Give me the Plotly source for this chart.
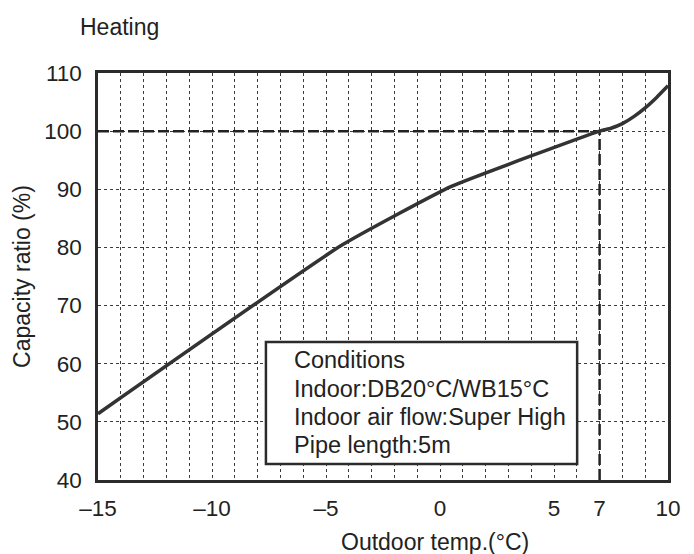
import plotly.graph_objects as go

# Data
outdoor_temp = [-15, -4.3, 0.5, 7, 7.5, 8, 8.5, 9, 9.5, 10]
capacity_ratio = [51.4, 80.4, 90.5, 100, 100.5, 101.3, 102.5, 104, 105.8, 107.8]

x_tick_vals = [-15, -10, -5, 0, 5, 7, 10]
x_tick_text = ["–15", "–10", "–5", "0", "5", "7", "10"]
y_tick_vals = [40, 50, 60, 70, 80, 90, 100, 110]

ref_temp = 7
ref_ratio = 100

conditions_lines = [
    "Conditions",
    "Indoor:DB20°C/WB15°C",
    "Indoor air flow:Super High",
    "Pipe length:5m",
]

FONT = "Liberation Sans, Arial, sans-serif"
DARK = "#2b2b2b"
GRID = "#3a3a3a"

fig = go.Figure()

# reference dashed lines
fig.add_trace(go.Scatter(x=[-15, ref_temp], y=[ref_ratio, ref_ratio], mode="lines",
                         line=dict(color="#222", width=2.5, dash="11px,4px"),
                         hoverinfo="skip", showlegend=False))
fig.add_trace(go.Scatter(x=[ref_temp, ref_temp], y=[40, ref_ratio], mode="lines",
                         line=dict(color="#222", width=2.5, dash="11px,4px"),
                         hoverinfo="skip", showlegend=False))

fig.add_trace(go.Scatter(x=outdoor_temp, y=capacity_ratio, mode="lines",
                         line=dict(color="#333", width=3.5, shape="spline", smoothing=0.4),
                         showlegend=False))

fig.update_layout(
    width=694, height=554,
    margin=dict(l=83, r=34, t=65, b=82),
    plot_bgcolor="white", paper_bgcolor="white",
    font=dict(family=FONT, size=22, color="#222"),
)

fig.update_xaxes(
    range=[-15, 10], tickmode="array", tickvals=x_tick_vals, ticktext=x_tick_text,
    showgrid=True, griddash="dot", gridcolor=GRID, gridwidth=1,
    minor=dict(tickmode="linear", tick0=-15, dtick=1, showgrid=True,
               griddash="dot", gridcolor=GRID, gridwidth=1, ticks=""),
    showline=True, mirror=True, linecolor=DARK, linewidth=2.5,
    ticks="", ticklabelstandoff=6, zeroline=False,
    tickfont=dict(size=22.5),
)
fig.update_yaxes(
    range=[40, 110], tickmode="array", tickvals=y_tick_vals,
    showgrid=True, griddash="dot", gridcolor=GRID, gridwidth=1,
    showline=True, mirror=True, linecolor=DARK, linewidth=2.5,
    ticks="", ticklabelstandoff=9, zeroline=False,
    tickfont=dict(size=22.5),
    title=dict(text="Capacity ratio (%)", font=dict(size=23), standoff=8),
)

# conditions box
fig.add_shape(type="rect", xref="paper", yref="paper",
              x0=0.2946, x1=0.8406, y0=0.0393, y1=0.339,
              line=dict(color=DARK, width=2.5), fillcolor="white", layer="above")

ys = [0.2948, 0.2248, 0.1548, 0.0848]
for txt, yy in zip(conditions_lines, ys):
    fig.add_annotation(text=txt, xref="paper", yref="paper", x=0.3397, y=yy,
                       xanchor="left", yanchor="middle", showarrow=False,
                       font=dict(size=23.5, color="#222"))

fig.add_annotation(text="Heating", xref="paper", yref="paper",
                   x=(63 - 83) / 577, y=(472 - 19) / 407, xanchor="left", yanchor="middle",
                   showarrow=False, font=dict(size=23, color="#222"))
fig.add_annotation(text="Outdoor temp.(°C)", xref="paper", yref="paper",
                   x=(424 - 83) / 577, y=(472 - 534) / 407, xanchor="center", yanchor="middle",
                   showarrow=False, font=dict(size=23, color="#222"))

fig.write_html("out.html")
